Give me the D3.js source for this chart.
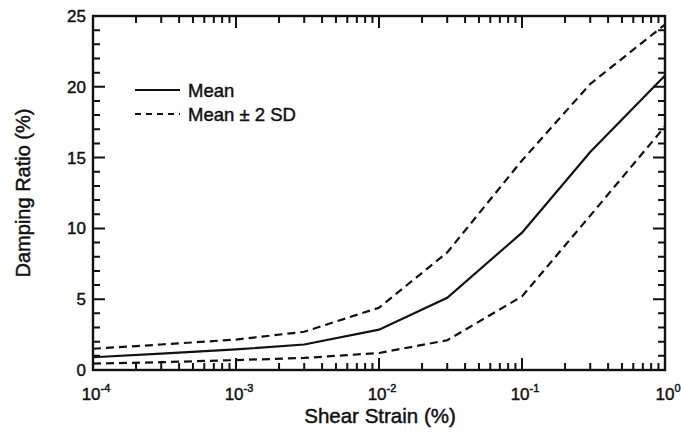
<!DOCTYPE html>
<html>
<head>
<meta charset="utf-8">
<script src="https://cdn.jsdelivr.net/npm/d3@7"></script>
<style>
  html, body { margin: 0; padding: 0; background: #fff; }
  svg text.lbl { font-family: "Liberation Sans", Arial, Helvetica, sans-serif; fill: #111; stroke: #111; stroke-width: 0.45px; }
</style>
</head>
<body>
<svg id="chart" width="681" height="443"></svg>
<script>
// Shear strain (%) at which damping was evaluated
const strain = [1e-4, 3e-4, 1e-3, 3e-3, 1e-2, 3e-2, 1e-1, 3e-1, 1];
// Damping ratio (%) curves
const meanDamping  = [0.9, 1.15, 1.45, 1.8, 2.85, 5.1, 9.7, 15.4, 20.8];
const upperDamping = [1.5, 1.8, 2.15, 2.7, 4.4, 8.3, 14.8, 20.2, 24.4];
const lowerDamping = [0.45, 0.55, 0.7, 0.85, 1.2, 2.1, 5.2, 10.9, 17.2];

const xDecades = [-4, -3, -2, -1, 0];
const yTicks = [0, 5, 10, 15, 20, 25];

const svg = d3.select("#chart");
const m = { left: 93, right: 665, top: 16, bottom: 370 };

const x = d3.scaleLog().domain([1e-4, 1]).range([m.left, m.right]);
const y = d3.scaleLinear().domain([0, 25]).range([m.bottom, m.top]);

const ink = "#111";

const xMinor = [];
for (let e = -4; e < 0; e++) for (let k = 2; k <= 9; k++) xMinor.push(k * Math.pow(10, e));
const xMajor = xDecades.map(e => Math.pow(10, e));
const yMinor = d3.range(0, 26).filter(v => v % 5 !== 0);

// Inward ticks on all four sides, one path for the whole set
const tickPath = d3.path();
function addX(vals, len) {
  vals.forEach(v => {
    const px = x(v);
    tickPath.moveTo(px, m.bottom); tickPath.lineTo(px, m.bottom - len);
    tickPath.moveTo(px, m.top); tickPath.lineTo(px, m.top + len);
  });
}
function addY(vals, len) {
  vals.forEach(v => {
    const py = y(v);
    tickPath.moveTo(m.left, py); tickPath.lineTo(m.left + len, py);
    tickPath.moveTo(m.right, py); tickPath.lineTo(m.right - len, py);
  });
}
addX(xMinor, 7); addX(xMajor, 12);
addY(yMinor, 7); addY(yTicks, 12);
svg.append("path").attr("d", tickPath.toString())
  .attr("fill", "none").attr("stroke", ink).attr("stroke-width", 2);

// Frame
svg.append("rect")
  .attr("x", m.left).attr("y", m.top)
  .attr("width", m.right - m.left).attr("height", m.bottom - m.top)
  .attr("fill", "none").attr("stroke", ink).attr("stroke-width", 2.4);

// Y tick labels
svg.append("g").selectAll("text").data(yTicks).join("text")
  .attr("class", "lbl")
  .attr("x", m.left - 7).attr("y", d => y(d) + 6)
  .attr("text-anchor", "end").attr("font-size", 17)
  .text(d => d);

// X tick labels: 10 with superscript exponent
const xl = svg.append("g").selectAll("text").data(xDecades).join("text")
  .attr("class", "lbl")
  .attr("x", d => x(Math.pow(10, d)) + 3).attr("y", 400)
  .attr("text-anchor", "middle").attr("font-size", 17);
xl.append("tspan").text("10");
xl.append("tspan").attr("dy", -8).attr("font-size", 11).text(d => d === 0 ? "0" : "-" + Math.abs(d));

// Axis titles
svg.append("text").attr("class", "lbl").attr("x", 380).attr("y", 423)
  .attr("text-anchor", "middle").attr("font-size", 20.5).text("Shear Strain (%)");
svg.append("text").attr("class", "lbl").attr("transform", `translate(30,${(m.top + m.bottom) / 2}) rotate(-90)`)
  .attr("text-anchor", "middle").attr("font-size", 20).text("Damping Ratio (%)");

// Curves
const lineGen = d3.line().x((d, i) => x(strain[i])).y(d => y(d));
const curves = [
  { values: upperDamping, dash: "8,5" },
  { values: lowerDamping, dash: "8,5" },
  { values: meanDamping, dash: null }
];
svg.append("g").selectAll("path").data(curves).join("path")
  .attr("d", d => lineGen(d.values))
  .attr("fill", "none").attr("stroke", ink).attr("stroke-width", 2.2)
  .attr("stroke-dasharray", d => d.dash);

// Legend
const legend = [
  { label: "Mean", dash: null, y: 90 },
  { label: "Mean \u00b1 2 SD", dash: "6,5", y: 114 }
];
const lg = svg.append("g").selectAll("g").data(legend).join("g");
lg.append("line").attr("x1", 135).attr("x2", 180).attr("y1", d => d.y).attr("y2", d => d.y)
  .attr("stroke", ink).attr("stroke-width", 2.2).attr("stroke-dasharray", d => d.dash);
lg.append("text").attr("class", "lbl").attr("x", 188).attr("y", d => d.y + 6.5).attr("font-size", 18.5).text(d => d.label);
</script>
</body>
</html>
